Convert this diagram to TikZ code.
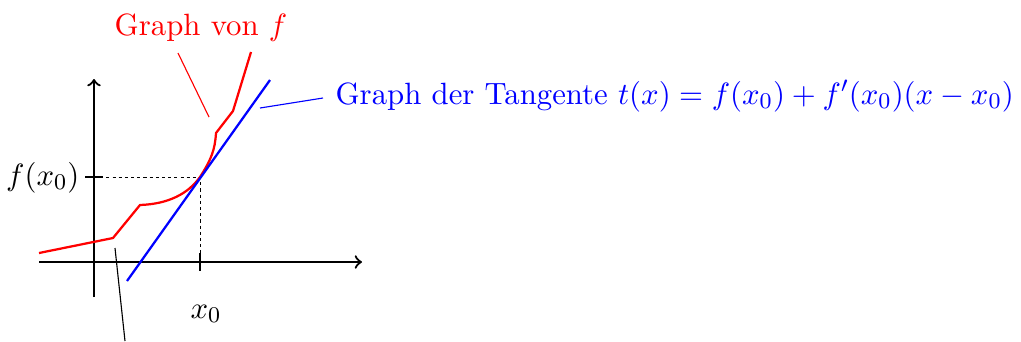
\documentclass[tikz,border=0pt,11pt]{standalone}
\begin{document}
\begin{tikzpicture}[x=0.3558pt,y=-0.3558pt,
  axis/.style={thick,->},
  fcurve/.style={red,thick},
  tline/.style={blue,thick},
  leader/.style={line width=0.4pt},
  lbl/.style={inner sep=0pt}]
\useasboundingbox (0,0) rectangle (1021,341);
% axes
\coordinate (xs) at (39,262);
\coordinate (xe) at (362,262);
\coordinate (ys) at (94,297);
\coordinate (ye) at (94,79);
\draw[axis] (xs) -- (xe);
\draw[axis] (ys) -- (ye);
% point
\coordinate (P) at (200,177);
\coordinate (Px) at (200,262);
\coordinate (Py) at (94,177);
\draw[line width=0.3pt,dash pattern=on 1.1pt off 1.1pt] (Py) -- (P) -- (Px);
\draw[thick] (200,253) -- (200,271);
\draw[thick] (85,177) -- (103,177);
% labels
\node[lbl,anchor=base east] (fx0) at (80,185) {$f(x_0)$};
\node[lbl,anchor=base west] (x0) at (190,318) {$x_0$};
% graph of f
\coordinate (a1) at (39,253);
\coordinate (a2) at (113,238);
\coordinate (a3) at (140,205);
\coordinate (a4) at (216,133);
\coordinate (a5) at (233,111);
\coordinate (a6) at (251,52);
\draw[fcurve,line join=round] (a1) -- (a2) -- (a3)
  .. controls (168,204) and (188,194) .. (P)
  .. controls (211,160) and (215,150) .. (a4) -- (a5) -- (a6);
% tangent
\coordinate (t1) at (127,281);
\coordinate (t2) at (270,80);
\draw[tline] (t1) -- (t2);
% label texts
\node[lbl,red,anchor=base] (gf) at (201,35) {Graph von $f$};
\node[lbl,blue,anchor=base west] (gt) at (335,104) {Graph der Tangente $t(x) = f(x_0) + f'(x_0)(x-x_0)$};
% leaders
\coordinate (r1) at (178,53);
\coordinate (r2) at (209,117);
\draw[leader,red] (r1) -- (r2);
\coordinate (b1) at (323,98);
\coordinate (b2) at (260,108);
\draw[leader,blue] (b1) -- (b2);
\coordinate (k1) at (115,248);
\coordinate (k2) at (125,341);
\draw[leader] (k1) -- (k2);
\end{tikzpicture}
\end{document}
